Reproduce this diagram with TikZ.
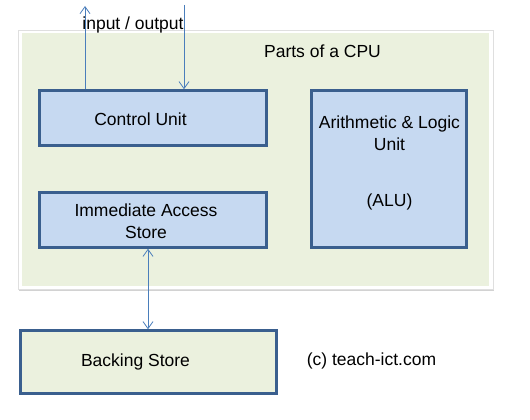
\documentclass[tikz,border=0pt]{standalone}
\usepackage{fontspec}
\setmainfont{Liberation Sans}
\usetikzlibrary{arrows.meta,shadows}
\definecolor{boxfill}{HTML}{C6D9F1}
\definecolor{boxline}{HTML}{3A5F8E}
\definecolor{cpufill}{HTML}{EBF1DE}
\definecolor{arrcol}{HTML}{4A7EBB}
\begin{document}
\begin{tikzpicture}[x=1pt,y=-1pt,
  unit/.style={draw=boxline,line width=2.5pt,fill=boxfill,rectangle,inner sep=0pt},
  backing/.style={draw=boxline,line width=2.5pt,fill=cpufill,rectangle,inner sep=0pt},
  txt/.style={font=\fontsize{17.5}{21}\selectfont,text=black,inner sep=0pt,anchor=base},
  arr/.style={draw=arrcol,line width=0.8pt,-{Straight Barb[length=7pt,width=10pt]}},
  darr/.style={draw=arrcol,line width=0.8pt,{Straight Barb[length=7pt,width=10pt]}-{Straight Barb[length=7pt,width=10pt]}}]
\useasboundingbox (0,0) rectangle (530,420);
\fill[white] (0,0) rectangle (530,420);
% CPU frame
\node[rectangle,fill=white,draw=gray!25,line width=0.4pt,minimum width=475pt,minimum height=259pt,inner sep=0pt,
  drop shadow={shadow xshift=0.5pt,shadow yshift=-2pt,opacity=0.35}] (frame) at (255.5,159.5) {};
\node[rectangle,fill=cpufill,minimum width=467pt,minimum height=253pt,inner sep=0pt] (cpu) at (255.5,159.5) {};
\node[txt] (title) at (322.5,58) {Parts of a CPU};
% units
\node[unit,minimum width=227pt,minimum height=55pt] (cu) at (153,118) {};
\node[txt] (cut) at (140.5,125) {Control Unit};
\node[unit,minimum width=155pt,minimum height=157pt] (alu) at (389,169) {};
\node[txt] (alut1) at (389.5,128.5) {Arithmetic \& Logic};
\node[txt] (alut2) at (389.5,150.5) {Unit};
\node[txt] (alun) at (389.5,206.5) {(ALU)};
\node[unit,minimum width=227pt,minimum height=55pt] (ias) at (153,220) {};
\node[txt] (iast1) at (146,216.5) {Immediate Access};
\node[txt] (iast2) at (146,238.5) {Store};
\node[backing,minimum width=256pt,minimum height=63pt] (bs) at (148.5,362) {};
\node[txt] (bst) at (135.5,366.5) {Backing Store};
\node[txt] (copy) at (371.5,365) {(c) teach-ict.com};
% input / output
\node[txt] (io) at (133,29.5) {input / output};
\coordinate (up) at (85,6);
\coordinate (dn) at (184,5);
\draw[arr] (cu.north -| up) -- (up);
\draw[arr] (dn) -- (dn |- cu.north);
\coordinate (ba) at (148,0);
\draw[darr] (ias.south -| ba) -- (bs.north -| ba);
\end{tikzpicture}
\end{document}
